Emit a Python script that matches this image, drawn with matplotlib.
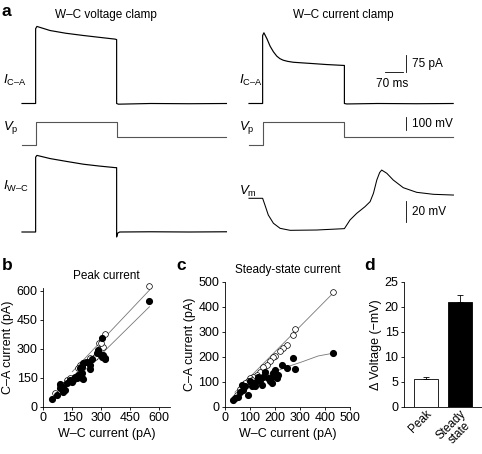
import numpy as np
import matplotlib.pyplot as plt

plt.rcParams['font.family'] = ['Liberation Sans', 'DejaVu Sans']
plt.rcParams['mathtext.fontset'] = 'custom'
plt.rcParams['mathtext.rm'] = 'Liberation Sans'
plt.rcParams['mathtext.it'] = 'Liberation Sans:italic'
plt.rcParams['font.size'] = 8
plt.rcParams['axes.linewidth'] = 0.6

W, H = 482, 454

# ---- panel a traces (time in ms, currents in pA, voltages in mV from start)
vc_t = [0, 53, 53, 58, 109, 170, 239, 300, 362, 368, 368, 375, 500, 650, 795]
vc_ica = [0, 0, 330, 340, 322, 310, 300, 292, 284, 282, 0, -3, 0, -1, 0]

cc_t = [0, 53, 53, 58, 70, 82, 95, 108, 120, 133, 150, 172, 210, 250, 300, 367, 371, 371, 380, 500, 650, 794]
cc_ica = [0, 0, 300, 312, 285, 253, 228, 209, 198, 191, 186, 182, 179, 176, 172, 168, 168, 0, -2, 0, -1, 0]

vp_t = [0, 53, 53, 368, 368, 795]
vp_v = [0, 0, 170, 170, 55, 55]

wc_t = [0, 53, 53, 58, 109, 170, 239, 300, 362, 368, 368, 372, 380, 500, 650, 795]
wc_iwc = [0, 0, 330, 338, 324, 312, 299, 291, 284, 284, -22, -5, 0, 1, 0, 1]

vm_t = [0, 53, 62, 75, 95, 121, 160, 263, 371, 393, 419, 451, 471, 484, 497,
        508, 516, 536, 561, 600, 652, 717, 795]
vm_v = [0, 0, -6.4, -15.9, -23.8, -28.6, -30.5, -30.2, -28.9, -20.6, -14.3, -8.0,
        -3.2, 4.8, 17.4, 24.5, 26.9, 23.8, 17.4, 10.1, 5.7, 3.8, 3.1]

# ---- panel b: peak current (pA)
b_open_x = [549, 321, 287, 310, 250, 190, 181, 155, 121, 86, 216, 267, 300, 240, 200, 140, 100, 60]
b_open_y = [624, 375, 328, 310, 245, 216, 199, 147, 138, 112, 233, 259, 330, 250, 215, 150, 110, 70]
b_fill_x = [548, 304, 310, 319, 302, 285, 276, 241, 250, 224, 207, 199, 190, 199, 181, 199,
            207, 164, 155, 138, 121, 147, 103, 95, 86, 86, 103, 112, 69, 45, 173, 241, 290, 320]
b_fill_y = [547, 357, 267, 250, 259, 293, 276, 195, 245, 233, 224, 207, 199, 173, 164, 147,
            142, 155, 138, 138, 121, 129, 95, 103, 115, 95, 78, 86, 60, 38, 147, 216, 280, 245]
b_line_hi = ([150, 549], [181, 603])
b_line_lo = ([150, 549], [124, 517])

# ---- panel c: steady-state current (pA)
c_open_x = [433, 280, 271, 247, 233, 220, 200, 193, 180, 167, 153, 140, 127, 113, 100, 93, 80, 107, 60, 47]
c_open_y = [460, 310, 287, 247, 234, 223, 203, 198, 184, 167, 160, 140, 127, 117, 113, 104, 93, 107, 70, 47]
c_fill_x = [433, 271, 280, 247, 229, 211, 200, 193, 187, 207, 173, 160, 153, 140, 133, 127, 113,
            100, 107, 120, 93, 80, 73, 67, 60, 40, 33, 53, 147, 180, 187]
c_fill_y = [214, 194, 152, 156, 168, 127, 147, 134, 120, 113, 113, 140, 120, 107, 120, 101, 93,
            101, 81, 81, 47, 81, 65, 87, 60, 35, 27, 40, 87, 101, 93]
c_line_hi = ([40, 433], [58, 455])
c_line_lo = ([150, 200, 250, 307, 373, 433], [118, 140, 160, 179, 203, 214])

# ---- panel d
d_labels = ['Peak', 'Steady\nstate']
d_values = [5.5, 21.0]
d_errors = [0.5, 1.4]
d_colors = ['white', 'black']

fig = plt.figure(figsize=(W / 100, H / 100), dpi=100)


def box(x0, y0, x1, y1):
    # pixel box with top-left origin -> figure fraction
    return [x0 / W, 1 - y1 / H, (x1 - x0) / W, (y1 - y0) / H]


MS_PER_PX = 70 / 18.0


def trace_ax(x0, top, bottom, y_zero, per_px):
    ax = fig.add_axes(box(x0, top, x0 + 205, bottom))
    ax.set_xlim(0, 205 * MS_PER_PX)
    ax.set_ylim((y_zero - bottom) * per_px, (y_zero - top) * per_px)
    ax.axis('off')
    return ax


kw = dict(color='black', lw=0.85, clip_on=False)
PA = 75 / 17.0
MV_P = 100 / 13.0
MV_M = 20 / 21.0

ax = trace_ax(22, 15, 112, 103.5, PA)
ax.plot(vc_t, vc_ica, **kw)
ax = trace_ax(249, 15, 112, 103.5, PA)
ax.plot(cc_t, cc_ica, **kw)
ax.plot([611, 611], [137, 212], color='black', lw=0.6, clip_on=False)
ax.plot([529, 599], [137, 137], color='black', lw=0.6, clip_on=False)
ax.text(635, 175, '75 pA', va='center', ha='left', fontsize=8.5)
ax.text(555, 85, '70 ms', va='center', ha='center', fontsize=8.5)

ax = trace_ax(22, 115, 150, 144.5, MV_P)
ax.plot(vp_t, vp_v, color='#555555', lw=0.8, clip_on=False)
ax = trace_ax(249, 115, 150, 144.5, MV_P)
ax.plot(vp_t, vp_v, color='#555555', lw=0.8, clip_on=False)
ax.plot([611, 611], [110, 210], color='black', lw=0.6, clip_on=False)
ax.text(635, 160, '100 mV', va='center', ha='left', fontsize=8.5)

ax = trace_ax(22, 150, 240, 232, PA)
ax.plot(wc_t, wc_iwc, **kw)
ax = trace_ax(249, 160, 240, 198.3, MV_M)
ax.plot(vm_t, vm_v, color='black', lw=0.75, clip_on=False)
ax.plot([611, 611], [-2.6, -22.6], color='black', lw=0.6, clip_on=False)
ax.text(635, -12.6, '20 mV', va='center', ha='left', fontsize=8.5)


# trace labels and titles (figure pixel positions)
def ftext(x, y, s, **k):
    fig.text(x / W, 1 - y / H, s, **k)


ftext(106, 15, 'W\u2013C voltage clamp', ha='center', va='center', fontsize=8.5)
ftext(343, 15, 'W\u2013C current clamp', ha='center', va='center', fontsize=8.5)
for xo in (3, 239):
    ftext(xo, 80, '$I_{\\mathrm{C\u2013A}}$', ha='left', va='center', fontsize=9.5)
    ftext(xo, 128, '$V_{\\mathrm{p}}$', ha='left', va='center', fontsize=9.5)
ftext(3, 186, '$I_{\\mathrm{W\u2013C}}$', ha='left', va='center', fontsize=9.5)
ftext(239, 191, '$V_{\\mathrm{m}}$', ha='left', va='center', fontsize=9.5)

for x, y, s in [(2, 11, 'a'), (2, 266, 'b'), (176, 266, 'c'), (364, 266, 'd')]:
    ftext(x, y, s, ha='left', va='center', fontsize=12.5, fontweight='bold')


def style(ax):
    for side in ('top', 'right'):
        ax.spines[side].set_visible(False)
    ax.tick_params(direction='out', length=2.5, width=0.6, labelsize=9, pad=1.5)


# ---- panel b
scale_b = 29 / 150.0
ax = fig.add_axes(box(43.3, 406.7 - 615 * scale_b, 43.3 + 655 * scale_b, 406.7))
ax.plot(*b_line_hi, color='#777777', lw=0.6)
ax.plot(*b_line_lo, color='#777777', lw=0.6)
ax.scatter(b_open_x, b_open_y, s=17, facecolor='white', edgecolor='black', linewidth=0.5,
           zorder=3, clip_on=False)
ax.scatter(b_fill_x, b_fill_y, s=17, color='black', zorder=4, clip_on=False)
ax.set_xlim(0, 655)
ax.set_ylim(0, 615)
ax.set_xticks([0, 150, 300, 450, 600])
ax.set_yticks([0, 150, 300, 450, 600])
ax.set_xlabel('W\u2013C current (pA)', fontsize=9, labelpad=3)
ax.set_ylabel('C\u2013A current (pA)', fontsize=9, labelpad=2)
ax.set_title('Peak current', fontsize=8.5, pad=6)
style(ax)

# ---- panel c
ax = fig.add_axes(box(225, 281.7, 350, 406.7))
ax.plot(*c_line_hi, color='#777777', lw=0.6)
ax.plot(*c_line_lo, color='#777777', lw=0.6)
ax.scatter(c_open_x, c_open_y, s=17, facecolor='white', edgecolor='black', linewidth=0.5,
           zorder=3, clip_on=False)
ax.scatter(c_fill_x, c_fill_y, s=17, color='black', zorder=4, clip_on=False)
ax.set_xlim(0, 500)
ax.set_ylim(0, 500)
ax.set_xticks([0, 100, 200, 300, 400, 500])
ax.set_yticks([0, 100, 200, 300, 400, 500])
ax.set_xlabel('W\u2013C current (pA)', fontsize=9, labelpad=3)
ax.set_ylabel('C\u2013A current (pA)', fontsize=9, labelpad=2)
ax.set_title('Steady-state current', fontsize=8.5, pad=6)
style(ax)

# ---- panel d
ax = fig.add_axes(box(404, 281.7, 482, 406.7))
pos = np.arange(len(d_values))
ax.bar(pos, d_values, width=0.7, color=d_colors, edgecolor='black', linewidth=0.6,
       yerr=[[0, 0], d_errors], error_kw=dict(ecolor='black', elinewidth=0.6, capsize=2, capthick=0.6))
ax.set_xlim(-0.65, 1.65)
ax.set_ylim(0, 25)
ax.set_yticks([0, 5, 10, 15, 20, 25])
ax.set_xticks(pos)
ax.set_xticklabels(d_labels, rotation=45, ha='right', rotation_mode='anchor',
                   multialignment='center', linespacing=0.95)
ax.set_ylabel('\u0394 Voltage (\u2212mV)', fontsize=9, labelpad=2)
style(ax)
ax.tick_params(axis='x', length=0, pad=1, labelsize=8.5)
for lab in ax.get_xticklabels():
    lab.set_x(lab.get_position()[0] + 0.25)

fig.savefig('out.png', dpi=100)
